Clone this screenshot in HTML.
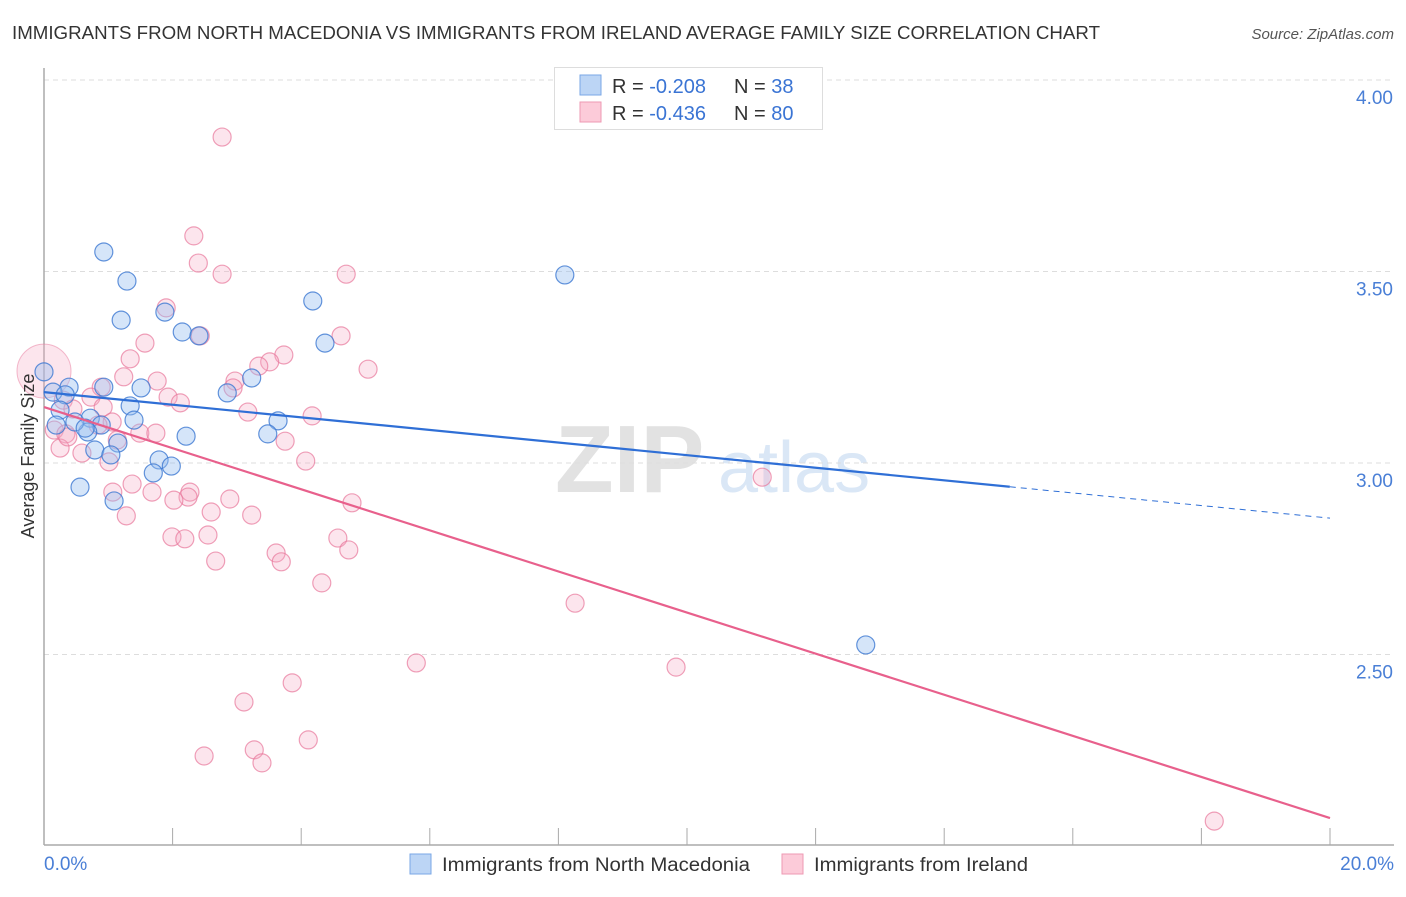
<!DOCTYPE html>
<html><head><meta charset="utf-8"><style>
body{margin:0;background:#fff;font-family:"Liberation Sans",sans-serif;}
svg text{font-family:"Liberation Sans",sans-serif;}
</style></head><body>
<svg id="chart" width="1406" height="892" viewBox="0 0 1406 892" xmlns="http://www.w3.org/2000/svg">
<text x="12" y="39" font-size="18" fill="#333" textLength="1088" lengthAdjust="spacingAndGlyphs">IMMIGRANTS FROM NORTH MACEDONIA VS IMMIGRANTS FROM IRELAND AVERAGE FAMILY SIZE CORRELATION CHART</text>
<text x="1394" y="39" font-size="15" fill="#555" font-style="italic" text-anchor="end">Source: ZipAtlas.com</text>
<text x="555" y="492" font-size="96" fill="#e2e2e2" font-family="Liberation Serif" font-weight="bold">ZIP</text>
<text x="718" y="492" font-size="72" fill="#dae7f6">atlas</text>
<g id="grid"></g>
<g id="axes"></g>
<g id="pts"></g>
<g id="trend"></g>
<text transform="translate(34,456) rotate(-90)" font-size="18" fill="#333" text-anchor="middle">Average Family Size</text>
<g>
<rect x="554.5" y="67.5" width="268" height="62" fill="#fff" stroke="#ddd"/>
<rect x="580" y="75" width="21" height="20" fill="#bcd5f5" stroke="#7aa7e6"/>
<rect x="580" y="102" width="21" height="20" fill="#fccbd9" stroke="#ee9ab3"/>
<text x="612" y="93" font-size="20" fill="#333">R = <tspan fill="#3a74d4">-0.208</tspan></text>
<text x="734" y="93" font-size="20" fill="#333">N = <tspan fill="#3a74d4"> 38</tspan></text>
<text x="612" y="120" font-size="20" fill="#333">R = <tspan fill="#3a74d4">-0.436</tspan></text>
<text x="734" y="120" font-size="20" fill="#333">N = <tspan fill="#3a74d4">80</tspan></text>
</g>
<g>
<rect x="410" y="854" width="21" height="20" fill="#bcd5f5" stroke="#7aa7e6"/>
<text x="442" y="871" font-size="19" fill="#333" textLength="308" lengthAdjust="spacingAndGlyphs">Immigrants from North Macedonia</text>
<rect x="782" y="854" width="21" height="20" fill="#fccbd9" stroke="#ee9ab3"/>
<text x="814" y="871" font-size="19" fill="#333" textLength="214" lengthAdjust="spacingAndGlyphs">Immigrants from Ireland</text>
</g>
</svg>
<script>
const yTicks=[4.0,3.5,3.0,2.5];
const yTickLabels=["4.00","3.50","3.00","2.50"];
const xTickLabels=["0.0%","20.0%"];
const blueX=[0.93,1.29,1.20,1.88,2.15,2.41,4.18,4.37,3.23,2.85,1.51,0.93,0.39,0.14,0.33,0.25,1.34,1.40,0.72,0.89,0.19,0.68,2.21,3.64,3.48,1.15,0.79,1.04,1.79,1.98,1.70,0.56,1.09,8.10,12.78,0.0,0.48,0.64];
const blueY=[3.551,3.475,3.373,3.394,3.342,3.332,3.423,3.313,3.222,3.183,3.196,3.198,3.198,3.185,3.178,3.138,3.149,3.112,3.117,3.099,3.099,3.081,3.070,3.110,3.076,3.052,3.034,3.021,3.008,2.992,2.974,2.937,2.901,3.491,2.525,3.238,3.107,3.091];
const pinkX=[2.77,2.33,2.40,2.77,4.70,1.90,1.57,2.43,4.62,1.34,3.73,3.51,3.34,5.04,1.24,1.76,0.89,2.97,2.94,1.93,2.12,0.30,0.73,0.92,3.17,4.17,0.45,1.06,0.16,1.49,1.74,0.84,0.34,1.14,3.75,0.25,0.59,0.37,1.01,4.07,11.17,1.37,1.07,1.68,2.27,2.24,2.89,2.02,4.79,2.60,3.23,1.28,2.55,1.99,2.19,4.57,3.61,4.74,2.67,3.69,4.32,8.26,9.83,5.79,3.86,3.11,4.11,3.27,2.49,3.39,18.20];
const pinkY=[3.851,3.593,3.522,3.493,3.493,3.405,3.313,3.332,3.332,3.272,3.282,3.264,3.253,3.245,3.225,3.214,3.198,3.214,3.196,3.172,3.157,3.164,3.172,3.146,3.133,3.123,3.141,3.107,3.086,3.078,3.078,3.099,3.076,3.060,3.057,3.039,3.026,3.068,3.003,3.005,2.963,2.945,2.924,2.924,2.924,2.911,2.906,2.903,2.896,2.872,2.864,2.862,2.812,2.807,2.802,2.804,2.765,2.773,2.744,2.742,2.687,2.634,2.467,2.478,2.426,2.376,2.277,2.251,2.235,2.217,2.065];
const bigPinkX=[0.0], bigPinkY=[3.24];
const blueTrend=[3.185,2.856];
const pinkTrend=[3.146,2.073];
const blueSolidEnd=15.02;
const NS="http://www.w3.org/2000/svg";
const X=v=>44+v/20*1286;
const Y=v=>80+(4-v)*383;
function mk(tag,attrs,parent){const e=document.createElementNS(NS,tag);for(const k in attrs)e.setAttribute(k,attrs[k]);document.getElementById(parent).appendChild(e);return e;}
yTicks.forEach((t,i)=>{
 const l=mk('line',{x1:44,x2:1394,y1:Y(t),y2:Y(t),stroke:'#ddd','stroke-dasharray':'5,4'},'grid');
 
 
 const tx=mk('text',{x:1393,y:Y(t)+24,'font-size':19,fill:'#4a7fd6','text-anchor':'end'},'grid');
 tx.textContent=yTickLabels[i];
 
 
});
const ax=mk('line',{x1:44,x2:44,y1:68,y2:845,stroke:'#aaa','stroke-width':1.5},'axes');


const bx=mk('line',{x1:44,x2:1394,y1:845,y2:845,stroke:'#aaa','stroke-width':1.5},'axes');


for(let i=0;i<=10;i++){
 const t=mk('line',{x1:X(i*2),x2:X(i*2),y1:828,y2:845,stroke:'#aaa'},'axes');
 
 
}
xTickLabels.forEach((s,i)=>{
 const t=mk('text',{x:i?1394:44,y:870,'font-size':19,fill:'#4a7fd6','text-anchor':i?'end':'start'},'axes');
 t.textContent=s;
 
 
});
bigPinkX.forEach((v,i)=>{
 const c=mk('circle',{cx:X(v),cy:Y(bigPinkY[i]),r:27,fill:'rgba(246,170,195,0.3)',stroke:'rgba(232,120,155,0.5)'},'pts');
 
 
});
pinkX.forEach((v,i)=>{
 const c=mk('circle',{cx:X(v),cy:Y(pinkY[i]),r:9,fill:'rgba(246,170,195,0.3)',stroke:'rgba(232,120,155,0.7)','stroke-width':1.2},'pts');
 
 
});
blueX.forEach((v,i)=>{
 const c=mk('circle',{cx:X(v),cy:Y(blueY[i]),r:9,fill:'rgba(150,190,240,0.4)',stroke:'rgba(60,120,210,0.8)','stroke-width':1.2},'pts');
 
 
});
const bAt=x=>blueTrend[0]+(blueTrend[1]-blueTrend[0])*x/20;
const t1=mk('line',{x1:X(0),y1:Y(bAt(0)),x2:X(blueSolidEnd),y2:Y(bAt(blueSolidEnd)),stroke:'#2f6fd6','stroke-width':2.2},'trend');


const t2=mk('line',{x1:X(blueSolidEnd),y1:Y(bAt(blueSolidEnd)),x2:X(20),y2:Y(bAt(20)),stroke:'#2f6fd6','stroke-width':1,'stroke-dasharray':'6,5'},'trend');


const t3=mk('line',{x1:X(0),y1:Y(pinkTrend[0]),x2:X(20),y2:Y(pinkTrend[1]),stroke:'#e8608c','stroke-width':2.2},'trend');


</script>
</body></html>
